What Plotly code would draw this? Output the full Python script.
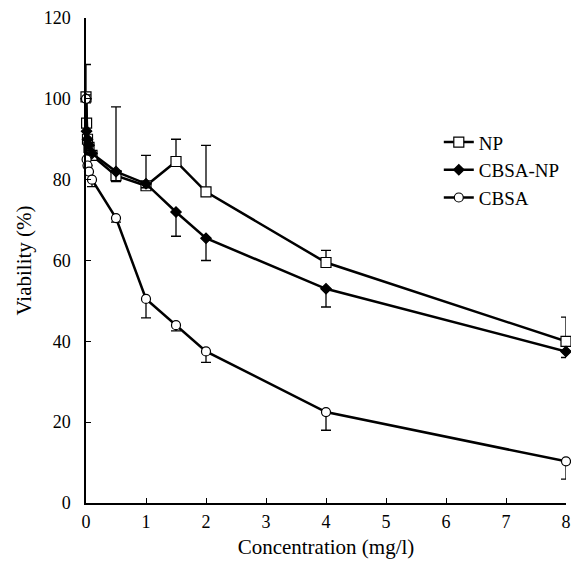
import plotly.graph_objects as go

conc = [0, 0.01, 0.025, 0.05, 0.1, 0.5, 1, 1.5, 2, 4, 8]

np_y = [100.5, 94, 90, 88, 86, 81, 78.5, 84.5, 77, 59.5, 40]
np_up = [8, 0, 0, 0, 0, 17, 7.5, 5.5, 11.5, 3, 6]
np_dn = [0, 0, 0, 0, 0, 0, 0, 0, 0, 0, 0]

cbsanp_y = [100, 92, 90, 88.5, 86.5, 82, 79, 72, 65.5, 53, 37.5]
cbsanp_up = [0, 0, 0, 0, 0, 0, 0, 0, 0, 0, 0]
cbsanp_dn = [0, 0, 0, 0, 0, 2.5, 1, 6, 5.5, 4.5, 1.5]

cbsa_y = [100, 85, 83.5, 82, 80, 70.5, 50.5, 44, 37.5, 22.5, 10.3]
cbsa_up = [1, 0, 0, 0, 0, 0, 0, 0, 0, 0, 0]
cbsa_dn = [1, 0, 0, 0, 1.7, 1, 4.7, 1.4, 2.7, 4.5, 4.4]

xticks = [0, 1, 2, 3, 4, 5, 6, 7, 8]
yticks = [0, 20, 40, 60, 80, 100, 120]

fig = go.Figure()

def add(name, y, up, dn, symbol, size, fill):
    fig.add_trace(go.Scatter(
        x=conc, y=y, name=name, mode="lines+markers",
        line=dict(color="black", width=2.5),
        marker=dict(symbol=symbol, size=size, color=fill,
                    line=dict(color="black", width=1.2)),
        error_y=dict(type="data", symmetric=False, array=up, arrayminus=dn,
                     color="black", thickness=1.3, width=5),
        cliponaxis=False,
    ))

add("NP", np_y, np_up, np_dn, "square", 10, "white")
add("CBSA-NP", cbsanp_y, cbsanp_up, cbsanp_dn, "diamond", 8, "black")
add("CBSA", cbsa_y, cbsa_up, cbsa_dn, "circle", 9, "white")

font = "Liberation Serif, Times New Roman, serif"
fig.update_layout(
    width=571, height=564,
    margin=dict(l=86, r=5, t=18, b=61),
    paper_bgcolor="white", plot_bgcolor="white",
    font=dict(family=font, size=16, color="black"),
    showlegend=True,
    legend=dict(x=0.735, y=0.783, xanchor="left", yanchor="top",
                font=dict(family=font, size=19), bgcolor="rgba(0,0,0,0)",
                tracegroupgap=0, itemwidth=30),
    xaxis=dict(range=[0, 8], tickvals=xticks, ticktext=[str(v) for v in xticks],
               showgrid=False, zeroline=False, showline=True, linecolor="black",
               linewidth=1.5, ticks="inside", ticklen=5, tickcolor="black",
               tickfont=dict(family=font, size=18), automargin=False,
               ticklabelstandoff=2,
               title=dict(text="Concentration (mg/l)", font=dict(family=font, size=21),
                          standoff=8)),
    yaxis=dict(range=[0, 120], tickvals=yticks, ticktext=[str(v) for v in yticks],
               showgrid=False, zeroline=False, showline=True, linecolor="black",
               linewidth=1.5, ticks="inside", ticklen=5, tickcolor="black",
               tickfont=dict(family=font, size=18), automargin=False,
               ticklabelstandoff=10,
               title=dict(text="Viability (%)", font=dict(family=font, size=21),
                          standoff=6)),
)

fig.write_html("out.html", config={"displayModeBar": False},
               post_script="document.body.style.margin='0';document.body.style.padding='0';")
